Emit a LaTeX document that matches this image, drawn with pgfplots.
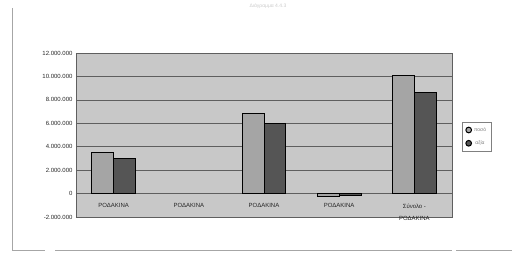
\documentclass[border=0pt]{standalone}
\usepackage{pgfplots}
\pgfplotsset{compat=1.18}
\usepackage{fontspec}
\setmainfont{Liberation Sans}
\definecolor{plotbg}{RGB}{200,200,200}
\definecolor{lightbar}{RGB}{165,165,165}
\definecolor{darkbar}{RGB}{85,85,85}
\definecolor{gridc}{RGB}{95,95,95}
\begin{document}
\begin{tikzpicture}[x=1pt,y=1pt]
\path (0,0) rectangle (514,252);
\draw[gray!70, line width=0.8pt] (12,244) -- (12,2) -- (45,2);
\draw[gray!70, line width=0.8pt] (55,2) -- (452,2);
\draw[gray!70, line width=0.8pt] (456,2) -- (512,2);
\node[text=gray!40, font=\fontsize{5}{6}\selectfont] at (268,246) {Διάγραμμα 4.4.3};
\begin{axis}[
  at={(76pt,35pt)}, anchor=south west,
  scale only axis, width=376pt, height=164pt,
  xmin=-0.5, xmax=4.5,
  ymin=-2000000, ymax=12000000,
  ybar=0pt, bar width=0.29,
  axis background/.style={fill=plotbg},
  axis line style={gridc, line width=0.6pt},
  ymajorgrids, grid style={gridc, line width=0.6pt},
  ytick={-2000000,0,2000000,4000000,6000000,8000000,10000000,12000000},
  yticklabels={-2.000.000,0,2.000.000,4.000.000,6.000.000,8.000.000,10.000.000,12.000.000},
  scaled y ticks=false,
  yticklabel style={font=\fontsize{6}{7}\selectfont, text=black!85},
  xtick={0,1,2,3,4},
  xticklabels={ΡΟΔΑΚΙΝΑ,ΡΟΔΑΚΙΝΑ,ΡΟΔΑΚΙΝΑ,ΡΟΔΑΚΙΝΑ,{Σύνολο -\\[5pt]ΡΟΔΑΚΙΝΑ}},
  xticklabel style={font=\fontsize{6}{7}\selectfont, text=black!85, align=center, anchor=north, yshift=17pt},
  major tick length=0pt,
  legend style={at={(1.027,0.49)}, anchor=west, draw=gray, fill=white,
    font=\fontsize{5}{6}\selectfont, text=gray, row sep=4pt, inner sep=3pt},
  legend image code/.code={\fill[#1] (0.6mm,0) circle (1mm);},
  clip=false,
]
\draw[gridc, line width=0.8pt] (axis cs:-0.5,0) -- (axis cs:4.5,0);
\addplot[fill=lightbar, draw=black, line width=1pt] coordinates {(0,3500000) (2,6800000) (3,-250000) (4,10100000)};
\addplot[fill=darkbar, draw=black, line width=1pt] coordinates {(0,3000000) (2,5950000) (3,-150000) (4,8600000)};
\legend{ποσό,αξία}
\end{axis}
\end{tikzpicture}
\end{document}
